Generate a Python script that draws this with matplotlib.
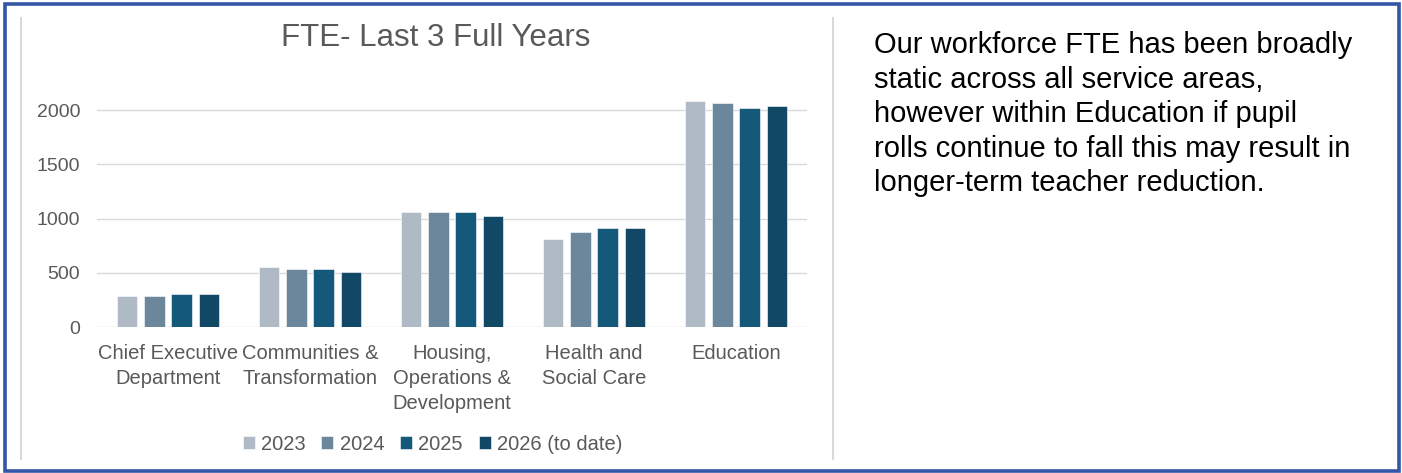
import matplotlib
matplotlib.use("Agg")
import matplotlib.pyplot as plt
import numpy as np
from matplotlib.patches import Rectangle
from matplotlib.lines import Line2D

plt.rcParams['font.family'] = ['Liberation Sans', 'DejaVu Sans']

categories = ["Chief Executive\nDepartment", "Communities &\nTransformation",
              "Housing,\nOperations &\nDevelopment", "Health and\nSocial Care", "Education"]
series_names = ["2023", "2024", "2025", "2026 (to date)"]
fte_2023 = [285, 550, 1065, 815, 2085]
fte_2024 = [285, 535, 1065, 880, 2065]
fte_2025 = [300, 535, 1065, 910, 2020]
fte_2026 = [300, 505, 1020, 910, 2040]
yticks = [0, 500, 1000, 1500, 2000]

title = "FTE- Last 3 Full Years"
commentary = ("Our workforce FTE has been broadly\n"
              "static across all service areas,\n"
              "however within Education if pupil\n"
              "rolls continue to fall this may result in\n"
              "longer-term teacher reduction.")

colors = ["#AFBAC4", "#6C879B", "#15597A", "#114866"]
text_grey = "#595959"

W, H = 1402, 473
fig = plt.figure(figsize=(W / 100, H / 100), dpi=100)

def fx(px):
    return px / W

def fy(py):
    return 1 - py / H

# outer frame
fig.add_artist(Rectangle((fx(4.5), fy(470.5)), fx(1394.5), (466) / H,
                         transform=fig.transFigure, fill=False,
                         edgecolor="#3456A6", linewidth=2.6))
# chart area separators
for xpx in (21, 832.5):
    fig.add_artist(Line2D([fx(xpx), fx(xpx)], [fy(18), fy(459)],
                          transform=fig.transFigure, color="#D9D9D9", linewidth=1.5))

# plot area
y_top = 2200
px_per_unit = (327 - 110.3) / 2000
ax_h = y_top * px_per_unit
ax = fig.add_axes([fx(97), fy(327), fx(807) - fx(97), ax_h / H])

series = [fte_2023, fte_2024, fte_2025, fte_2026]
x = np.arange(len(categories))
step = 0.192
bar_w = 0.146
for i, (vals, col, name) in enumerate(zip(series, colors, series_names)):
    ax.bar(x + (i - 1.5) * step, vals, width=bar_w, color=col,
           edgecolor="white", linewidth=0.4, label=name, zorder=3)

ax.set_xlim(-0.5, len(categories) - 0.5)
ax.set_ylim(0, y_top)
ax.set_yticks(yticks)
ax.set_yticklabels([str(v) for v in yticks])
ax.set_xticks(x)
ax.set_xticklabels(categories, linespacing=1.4)
ax.yaxis.grid(True, color="#D9D9D9", linewidth=1.0, zorder=0)
ax.set_axisbelow(True)
for s in ax.spines.values():
    s.set_visible(False)
ax.tick_params(axis="y", length=0, pad=12, labelsize=14, labelcolor=text_grey)
ax.tick_params(axis="x", length=0, pad=12, labelsize=14.5, labelcolor=text_grey)

fig.text(fx(436), fy(38), title, ha="center", va="center",
         fontsize=22.5, color=text_grey)

handles, labels = ax.get_legend_handles_labels()
fig.legend(handles, labels, loc="center", bbox_to_anchor=(fx(432.5), fy(444)),
           ncol=4, frameon=False, fontsize=14.5, labelcolor=text_grey,
           handlelength=0.6, handleheight=0.6, handletextpad=0.3,
           columnspacing=0.8)

fig.text(fx(874), fy(31), commentary, ha="left", va="top",
         fontsize=21, color="black", linespacing=1.3)

fig.savefig("out.png", dpi=100, facecolor="white")
